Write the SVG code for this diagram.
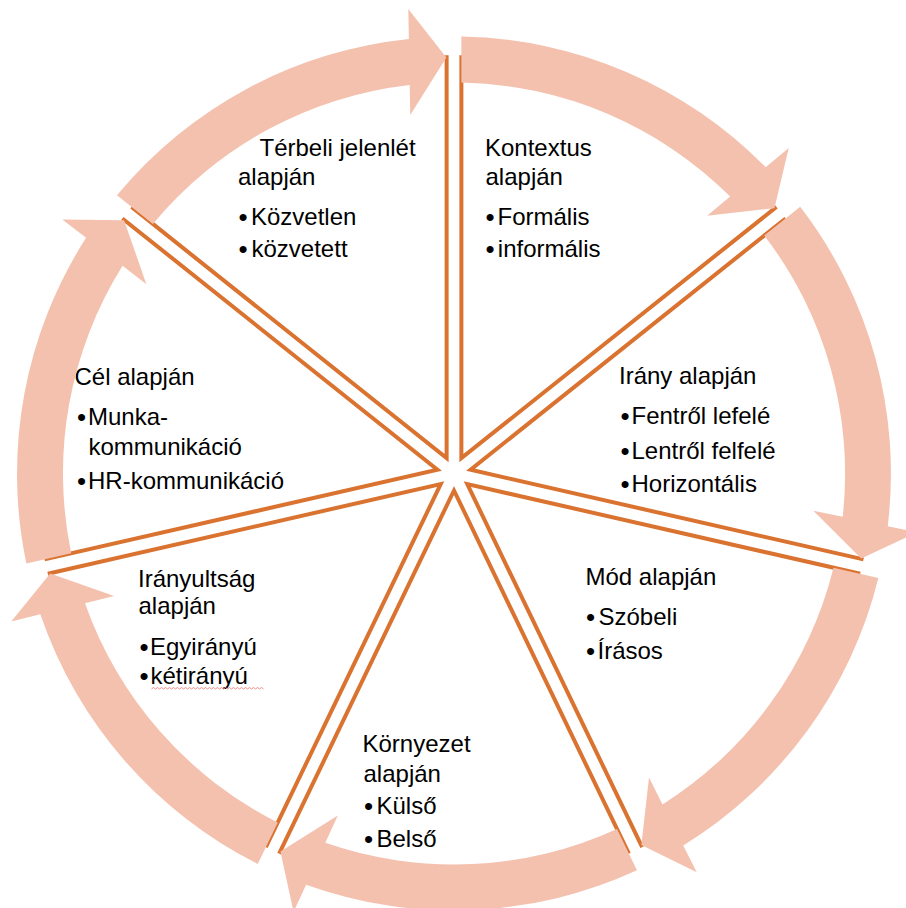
<svg xmlns="http://www.w3.org/2000/svg" xmlns:xlink="http://www.w3.org/1999/xlink" width="906" height="908" viewBox="0 0 906 908">
<style>
.wedge{fill:none;stroke:#DA7230;stroke-width:4;stroke-linejoin:miter}
.arrow{fill:#F4C1AF;stroke:none}
text{font-family:"Liberation Sans",Arial,sans-serif;font-size:24px;fill:#000}
.b{font-size:26px}
.wavy{fill:none;stroke:#F08A8A;stroke-width:1}
</style>
<defs>
<polyline id="wedgeShape" class="wedge" points="461.38,55.18 461.38,458.18 776.46,206.91"/>
<path id="arrowShape" class="arrow" d="M461.38 36.56 A437 437 0 0 1 765.63 167.25 L788.74 148.12 L774.44 208.2 L707.08 215.72 L730.19 196.59 A391 391 0 0 0 461.38 82.57 Z"/>
</defs>
<rect width="906" height="908" fill="#fff"/>
<g id="node-kontextus">
<use xlink:href="#wedgeShape" href="#wedgeShape"/>
<text x="485" y="156">Kontextus</text>
<text x="485.5" y="184.5">alapján</text>
<text y="225"><tspan class="b" x="485.5" dy="1">•</tspan><tspan x="497.5" dy="-1">Formális</tspan></text>
<text y="257"><tspan class="b" x="485.5" dy="1">•</tspan><tspan x="497.8" dy="-1">informális</tspan></text>
</g>
<g id="node-irany">
<use xlink:href="#wedgeShape" href="#wedgeShape" transform="rotate(51.4286 454 473.5)"/>
<text x="619" y="384">Irány alapján</text>
<text y="424"><tspan class="b" x="620.5" dy="1">•</tspan><tspan x="631.5" dy="-1">Fentről lefelé</tspan></text>
<text y="458.5"><tspan class="b" x="620.5" dy="1">•</tspan><tspan x="631.5" dy="-1">Lentről felfelé</tspan></text>
<text y="492"><tspan class="b" x="620.5" dy="1">•</tspan><tspan x="631.5" dy="-1">Horizontális</tspan></text>
</g>
<g id="node-mod">
<use xlink:href="#wedgeShape" href="#wedgeShape" transform="rotate(102.8571 454 473.5)"/>
<text x="585.5" y="585">Mód alapján</text>
<text y="625"><tspan class="b" x="586" dy="1">•</tspan><tspan x="598.5" dy="-1">Szóbeli</tspan></text>
<text y="658.5"><tspan class="b" x="586" dy="1">•</tspan><tspan x="597.5" dy="-1">Írásos</tspan></text>
</g>
<g id="node-kornyezet">
<use xlink:href="#wedgeShape" href="#wedgeShape" transform="rotate(154.2857 454 473.5)"/>
<text x="362.5" y="752">Környezet</text>
<text x="363.5" y="782">alapján</text>
<text y="814"><tspan class="b" x="364" dy="1">•</tspan><tspan x="376.5" dy="-1">Külső</tspan></text>
<text y="847"><tspan class="b" x="364" dy="1">•</tspan><tspan x="376.5" dy="-1">Belső</tspan></text>
</g>
<g id="node-iranyultsag">
<use xlink:href="#wedgeShape" href="#wedgeShape" transform="rotate(205.7143 454 473.5)"/>
<text x="138" y="587">Irányultság</text>
<text x="138.5" y="614">alapján</text>
<text y="655"><tspan class="b" x="139.5" dy="1">•</tspan><tspan x="150" dy="-1">Egyirányú</tspan></text>
<text y="683.5"><tspan class="b" x="139.5" dy="1">•</tspan><tspan x="150.5" dy="-1">kétirányú</tspan></text>
<path class="wavy" d="M151.5 689 l2 -1.5 l2 1.5 l2 -1.5 l2 1.5 l2 -1.5 l2 1.5 l2 -1.5 l2 1.5 l2 -1.5 l2 1.5 l2 -1.5 l2 1.5 l2 -1.5 l2 1.5 l2 -1.5 l2 1.5 l2 -1.5 l2 1.5 l2 -1.5 l2 1.5 l2 -1.5 l2 1.5 l2 -1.5 l2 1.5 l2 -1.5 l2 1.5 l2 -1.5 l2 1.5 l2 -1.5 l2 1.5 l2 -1.5 l2 1.5 l2 -1.5 l2 1.5 l2 -1.5 l2 1.5 l2 -1.5 l2 1.5 l2 -1.5 l2 1.5 l2 -1.5 l2 1.5 l2 -1.5 l2 1.5 l2 -1.5 l2 1.5 l2 -1.5 l2 1.5 l2 -1.5 l2 1.5 l2 -1.5 l2 1.5 l2 -1.5 l2 1.5 l2 -1.5 l2 1.5"/>
</g>
<g id="node-cel">
<use xlink:href="#wedgeShape" href="#wedgeShape" transform="rotate(257.1429 454 473.5)"/>
<text x="74.5" y="385">Cél alapján</text>
<text y="425"><tspan class="b" x="77" dy="1">•</tspan><tspan x="88" dy="-1">Munka-</tspan></text>
<text x="88.5" y="455">kommunikáció</text>
<text y="488.5"><tspan class="b" x="77" dy="1">•</tspan><tspan x="88" dy="-1">HR-kommunikáció</tspan></text>
</g>
<g id="node-terbeli">
<use xlink:href="#wedgeShape" href="#wedgeShape" transform="rotate(308.5714 454 473.5)"/>
<text x="259.5" y="156">Térbeli jelenlét</text>
<text x="238" y="184.5">alapján</text>
<text y="225"><tspan class="b" x="238.5" dy="1">•</tspan><tspan x="251" dy="-1">Közvetlen</tspan></text>
<text y="257"><tspan class="b" x="238.5" dy="1">•</tspan><tspan x="251.5" dy="-1">közvetett</tspan></text>
</g>
<g id="connectors">
<use xlink:href="#arrowShape" href="#arrowShape"/>
<use xlink:href="#arrowShape" href="#arrowShape" transform="rotate(51.4286 454 473.5)"/>
<use xlink:href="#arrowShape" href="#arrowShape" transform="rotate(102.8571 454 473.5)"/>
<use xlink:href="#arrowShape" href="#arrowShape" transform="rotate(154.2857 454 473.5)"/>
<use xlink:href="#arrowShape" href="#arrowShape" transform="rotate(205.7143 454 473.5)"/>
<use xlink:href="#arrowShape" href="#arrowShape" transform="rotate(257.1429 454 473.5)"/>
<use xlink:href="#arrowShape" href="#arrowShape" transform="rotate(308.5714 454 473.5)"/>
</g>
</svg>
